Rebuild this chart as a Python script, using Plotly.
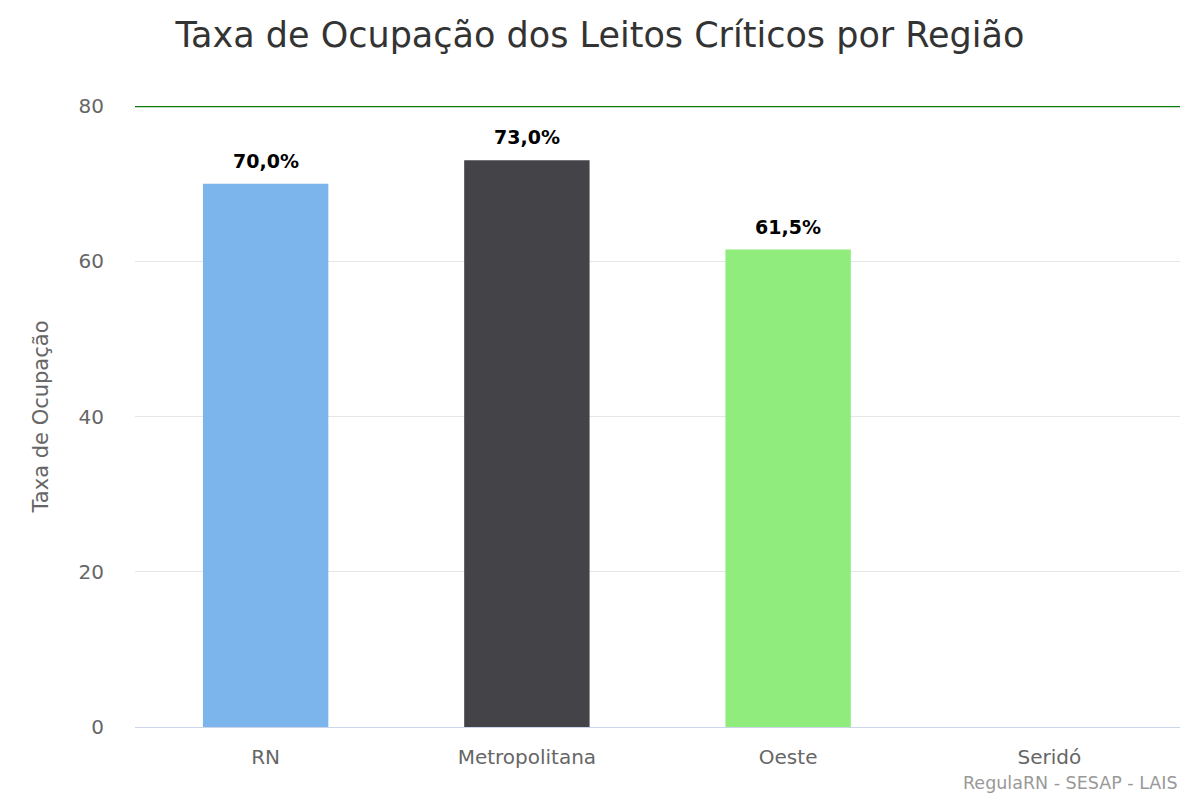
import plotly.graph_objects as go

# Dados do gráfico
regioes = ['RN', 'Metropolitana', 'Oeste', 'Seridó']
taxas = [70.0, 73.0, 61.5, None]
cores = ['#7cb5ec', '#434348', '#90ed7d', '#f7a35c']
rotulos = ['70,0%', '73,0%', '61,5%', '']
limite = 80

fig = go.Figure()
fig.add_trace(go.Bar(
    x=regioes,
    y=taxas,
    marker_color=cores,
    marker_line_width=0,
    width=0.48,
    hoverinfo='x+y',
))

# Rótulos de dados acima das barras
for reg, val, rot in zip(regioes, taxas, rotulos):
    if val is None:
        continue
    fig.add_annotation(
        x=reg, y=val, text='<b>' + rot + '</b>',
        showarrow=False, yanchor='bottom', yshift=10,
        font=dict(family='DejaVu Sans', size=19, color='#000000'),
    )

# Linha de referência (limite)
fig.add_hline(y=limite, line_color='#0a7a0a', line_width=2.5)

fig.update_layout(
    width=1200,
    height=800,
    paper_bgcolor='white',
    plot_bgcolor='white',
    font=dict(family='DejaVu Sans', color='#666666'),
    title=dict(
        text='Taxa de Ocupação dos Leitos Críticos por Região',
        x=0.4933, xanchor='center', y=0.966, yanchor='middle',
        font=dict(size=35, color='#333333'),
    ),
    margin=dict(l=127, r=28, t=98, b=81),
    showlegend=False,
)
fig.update_xaxes(
    showline=True, linecolor='#ccd6eb', linewidth=1,
    tickfont=dict(size=20, color='#666666'),
    ticks='', ticklabelstandoff=12,
)
fig.update_yaxes(
    range=[0, limite],
    tickvals=[0, 20, 40, 60, 80],
    gridcolor='#e6e6e6', gridwidth=1,
    zeroline=False,
    tickfont=dict(size=20, color='#666666'),
    ticklabelstandoff=30,
    title=dict(text='Taxa de Ocupação', font=dict(size=21, color='#666666'), standoff=24),
)

fig.add_annotation(
    text='RegulaRN - SESAP - LAIS',
    xref='paper', yref='paper', x=1.0, y=0, xanchor='right', yanchor='middle',
    yshift=-56,
    showarrow=False,
    font=dict(size=17.5, color='#999999'),
)

fig.write_html('out.html')
